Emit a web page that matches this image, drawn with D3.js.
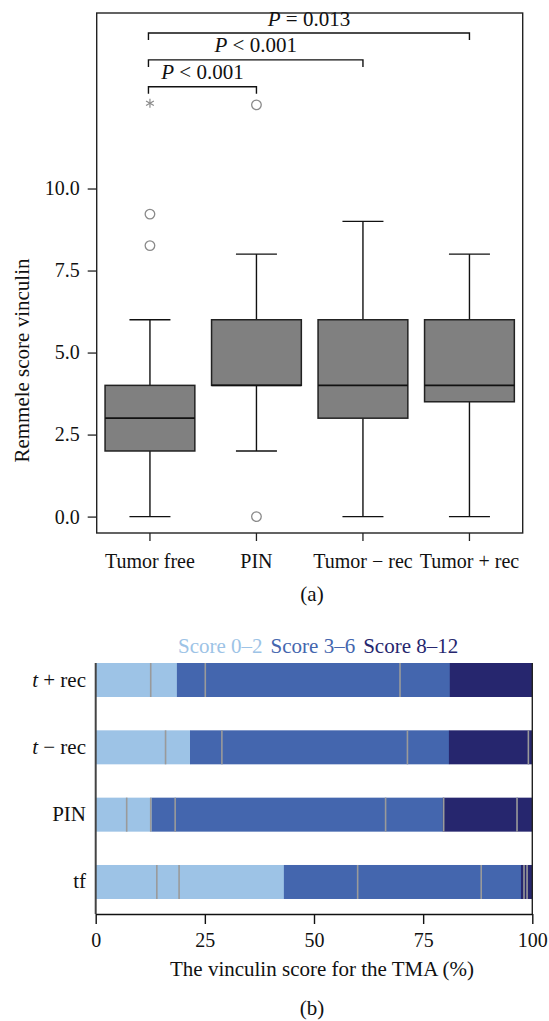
<!DOCTYPE html>
<html>
<head>
<meta charset="utf-8">
<script src="https://cdn.jsdelivr.net/npm/d3@7"></script>
<style>
  html, body { margin: 0; padding: 0; background: #fff; }
  svg { display: block; }
  text { font-family: "Liberation Serif", "DejaVu Serif", serif; fill: #111; }
</style>
</head>
<body>
<svg id="chart" width="549" height="1021"></svg>
<script>
// ---------- Panel (a): box plot data ----------
const categories = ["Tumor free", "PIN", "Tumor − rec", "Tumor + rec"];
const whiskerLow  = [0, 2, 0, 0];
const q1          = [2, 4, 3, 3.5];
const median      = [3, 4, 4, 4];
const q3          = [4, 6, 6, 6];
const whiskerHigh = [6, 8, 9, 8];
const outlierCircles = [[9.22, 8.26], [12.55, 0], [], []];
const outlierStars   = [[12.6], [], [], []];
const yTicksA = [0, 2.5, 5, 7.5, 10];
const compareTo    = ["PIN", "Tumor − rec", "Tumor + rec"];
const compareOp    = ["<", "<", "="];
const compareP     = ["0.001", "0.001", "0.013"];

// ---------- Panel (b): stacked bar data ----------
const rows = ["t + rec", "t − rec", "PIN", "tf"];
const scoreValues = ["0", "1", "2", "3", "4", "6", "8", "9", "12"];
const scoreGroup  = [0, 0, 0, 1, 1, 1, 2, 2, 2];
const groupLabels = ["Score 0–2", "Score 3–6", "Score 8–12"];
const pctTumorPlusRec  = [12.6, 6.0, 0,   6.5, 44.6, 11.4, 18.9, 0,    0];
const pctTumorMinusRec = [16.0, 5.6, 0,   7.3, 42.5, 9.5,  18.2, 0.9,  0];
const pctPIN           = [7.1,  5.5, 0.2, 5.4, 48.2, 13.1, 0.2,  16.8, 3.5];
const pctTumorFree     = [14.0, 5.1, 24.0, 16.9, 28.3, 9.1, 0.7, 0.7, 1.2];
const xTicksB = [0, 25, 50, 75, 100];

const groupColors = ["#9dc3e6", "#4466ae", "#26266e"];

const svg = d3.select("#chart");

// ================= Panel (a) =================
const A = { left: 96.7, right: 522.7, top: 13, bottom: 533 };
const xA = d3.scaleBand().domain(categories).range([A.left, A.right]);
const yA = d3.scaleLinear().domain([-0.5, 15.35]).range([A.bottom, A.top]);
const boxW = xA.bandwidth() * 0.843;
const capW = xA.bandwidth() * 0.385;

const gA = svg.append("g");

// frame
gA.append("rect")
  .attr("x", A.left).attr("y", A.top)
  .attr("width", A.right - A.left).attr("height", A.bottom - A.top)
  .attr("fill", "none").attr("stroke", "#222").attr("stroke-width", 1.4);

// y axis
const yAxisA = d3.axisLeft(yA).tickValues(yTicksA).tickFormat(d3.format(".1f")).tickSize(9).tickPadding(8);
const yAx = gA.append("g").attr("transform", `translate(${A.left},0)`).call(yAxisA);
yAx.select(".domain").remove();
yAx.selectAll("line").attr("stroke", "#222").attr("stroke-width", 1.3);
yAx.selectAll("text").style("font-family", "Liberation Serif").style("font-size", "20px").attr("fill", "#111");

// x axis
const xAxisA = d3.axisBottom(xA).tickSize(8).tickPadding(13);
const xAx = gA.append("g").attr("transform", `translate(0,${A.bottom})`).call(xAxisA);
xAx.select(".domain").remove();
xAx.selectAll("line").attr("stroke", "#222").attr("stroke-width", 1.3);
xAx.selectAll("text").style("font-family", "Liberation Serif").style("font-size", "20px").attr("fill", "#111");

// y label
gA.append("text")
  .attr("transform", `translate(29,${(yA(0) + yA(10)) / 2 + 8}) rotate(-90)`)
  .attr("text-anchor", "middle").style("font-size", "21px")
  .text("Remmele score vinculin");

// boxes
const boxData = categories.map((c, i) => ({
  c, lo: whiskerLow[i], q1: q1[i], med: median[i], q3: q3[i], hi: whiskerHigh[i],
  circ: outlierCircles[i], star: outlierStars[i]
}));

const bg = gA.selectAll("g.box").data(boxData).join("g").attr("class", "box");
const cx = d => xA(d.c) + xA.bandwidth() / 2;

// whiskers
bg.append("line").attr("x1", cx).attr("x2", cx)
  .attr("y1", d => yA(d.hi)).attr("y2", d => yA(d.q3))
  .attr("stroke", "#111").attr("stroke-width", 1.4);
bg.append("line").attr("x1", cx).attr("x2", cx)
  .attr("y1", d => yA(d.q1)).attr("y2", d => yA(d.lo))
  .attr("stroke", "#111").attr("stroke-width", 1.4);
bg.append("line").attr("x1", d => cx(d) - capW / 2).attr("x2", d => cx(d) + capW / 2)
  .attr("y1", d => yA(d.hi)).attr("y2", d => yA(d.hi))
  .attr("stroke", "#111").attr("stroke-width", 1.4);
bg.append("line").attr("x1", d => cx(d) - capW / 2).attr("x2", d => cx(d) + capW / 2)
  .attr("y1", d => yA(d.lo)).attr("y2", d => yA(d.lo))
  .attr("stroke", "#111").attr("stroke-width", 1.4);
// box
bg.append("rect")
  .attr("x", d => cx(d) - boxW / 2).attr("width", boxW)
  .attr("y", d => yA(d.q3)).attr("height", d => yA(d.q1) - yA(d.q3))
  .attr("fill", "#808080").attr("stroke", "#222").attr("stroke-width", 1.5);
// median
bg.append("line").attr("x1", d => cx(d) - boxW / 2).attr("x2", d => cx(d) + boxW / 2)
  .attr("y1", d => yA(d.med)).attr("y2", d => yA(d.med))
  .attr("stroke", "#111").attr("stroke-width", 1.8);
// outliers
bg.each(function (d) {
  const g = d3.select(this);
  g.selectAll("circle").data(d.circ).join("circle")
    .attr("cx", cx(d)).attr("cy", v => yA(v)).attr("r", 4.8)
    .attr("fill", "none").attr("stroke", "#8a8a8a").attr("stroke-width", 1.3);
  d.star.forEach(v => {
    const x0 = cx(d), y0 = yA(v), r = 4.5;
    [0, 60, 120].forEach(a => {
      const rad = (a + 90) * Math.PI / 180;
      g.append("line")
        .attr("x1", x0 - r * Math.cos(rad)).attr("y1", y0 - r * Math.sin(rad))
        .attr("x2", x0 + r * Math.cos(rad)).attr("y2", y0 + r * Math.sin(rad))
        .attr("stroke", "#8a8a8a").attr("stroke-width", 1.2);
    });
  });
});

// significance brackets
const bracketBase = 13.1, bracketStep = 0.82, drop = 7;
compareTo.forEach((t, i) => {
  const x1 = cx({ c: categories[0] }) - 1.5, x2 = cx({ c: t });
  const yy = yA(bracketBase + i * bracketStep);
  gA.append("path")
    .attr("d", `M${x1},${yy + drop}V${yy}H${x2}V${yy + drop}`)
    .attr("fill", "none").attr("stroke", "#111").attr("stroke-width", 1.4);
  const tx = gA.append("text").attr("x", (x1 + x2) / 2).attr("y", yy - 7.5)
    .attr("text-anchor", "middle").style("font-size", "21px");
  tx.append("tspan").style("font-style", "italic").text("P");
  tx.append("tspan").text(` ${compareOp[i]} ${compareP[i]}`);
});

// panel label
gA.append("text").attr("x", 312).attr("y", 601).attr("text-anchor", "middle")
  .style("font-size", "21px").text("(a)");

// ================= Panel (b) =================
const B = { left: 95.7, right: 532.3, top: 663, bottom: 914 };
const xB = d3.scaleLinear().domain([0, 100]).range([B.left, B.right]);
const yB = d3.scaleBand().domain(rows).range([B.top, B.bottom])
  .paddingInner(0.495).paddingOuter(0.1115).align(0);

const gB = svg.append("g");
const rowData = [pctTumorPlusRec, pctTumorMinusRec, pctPIN, pctTumorFree];

rows.forEach((r, ri) => {
  const vals = rowData[ri];
  let acc = 0;
  const segs = vals.map((v, si) => {
    const s = { x0: acc, x1: acc + v, v, g: scoreGroup[si], si };
    acc += v;
    return s;
  }).filter(s => s.v > 0);
  const rg = gB.append("g");
  rg.selectAll("rect").data(segs).join("rect")
    .attr("x", s => xB(s.x0)).attr("width", s => xB(s.x1) - xB(s.x0) + 0.3)
    .attr("y", yB(r)).attr("height", yB.bandwidth())
    .attr("fill", s => groupColors[s.g]);
  // grey separators between consecutive scores of the same group
  const seps = segs.filter((s, k) => k > 0 && segs[k - 1].g === s.g);
  rg.selectAll("line").data(seps).join("line")
    .attr("x1", s => xB(s.x0)).attr("x2", s => xB(s.x0))
    .attr("y1", yB(r)).attr("y2", yB(r) + yB.bandwidth())
    .attr("stroke", "#9a9a9a").attr("stroke-width", 1.6);
});

// left axis line
gB.append("line").attr("x1", B.left).attr("x2", B.left)
  .attr("y1", B.top).attr("y2", B.bottom)
  .attr("stroke", "#444").attr("stroke-width", 2);
// right border
gB.append("line").attr("x1", B.right).attr("x2", B.right)
  .attr("y1", B.top).attr("y2", B.bottom)
  .attr("stroke", "#222").attr("stroke-width", 1.4);

// row labels
const rowLab = gB.selectAll("text.row").data(rows).join("text").attr("class", "row")
  .attr("x", 86).attr("y", r => yB(r) + yB.bandwidth() / 2 + 6.5)
  .attr("text-anchor", "end").style("font-size", "21px");
rowLab.each(function (r) {
  const t = d3.select(this);
  if (r.startsWith("t ")) {
    t.append("tspan").style("font-style", "italic").text("t");
    t.append("tspan").text(r.slice(1));
  } else {
    t.text(r);
  }
});

// x axis
const xAxisB = d3.axisBottom(xB).tickValues(xTicksB).tickSize(10).tickPadding(9).tickSizeOuter(0);
const xbAx = gB.append("g").attr("transform", `translate(0,${B.bottom})`).call(xAxisB);
xbAx.select(".domain").attr("stroke", "#111").attr("stroke-width", 1.5);
xbAx.selectAll("line").attr("stroke", "#111").attr("stroke-width", 1.4);
xbAx.selectAll("text").style("font-family", "Liberation Serif").style("font-size", "20px").attr("fill", "#111");

gB.append("text").attr("x", 322).attr("y", 976).attr("text-anchor", "middle")
  .style("font-size", "21px").text("The vinculin score for the TMA (%)");

// legend
let lx = 178;
groupLabels.forEach((l, i) => {
  const t = gB.append("text").attr("x", lx).attr("y", 653)
    .style("font-size", "21px").style("fill", groupColors[i]).text(l);
  lx += t.node().getComputedTextLength() + 8;
});

gB.append("text").attr("x", 312).attr("y", 1015).attr("text-anchor", "middle")
  .style("font-size", "21px").text("(b)");
</script>
</body>
</html>
